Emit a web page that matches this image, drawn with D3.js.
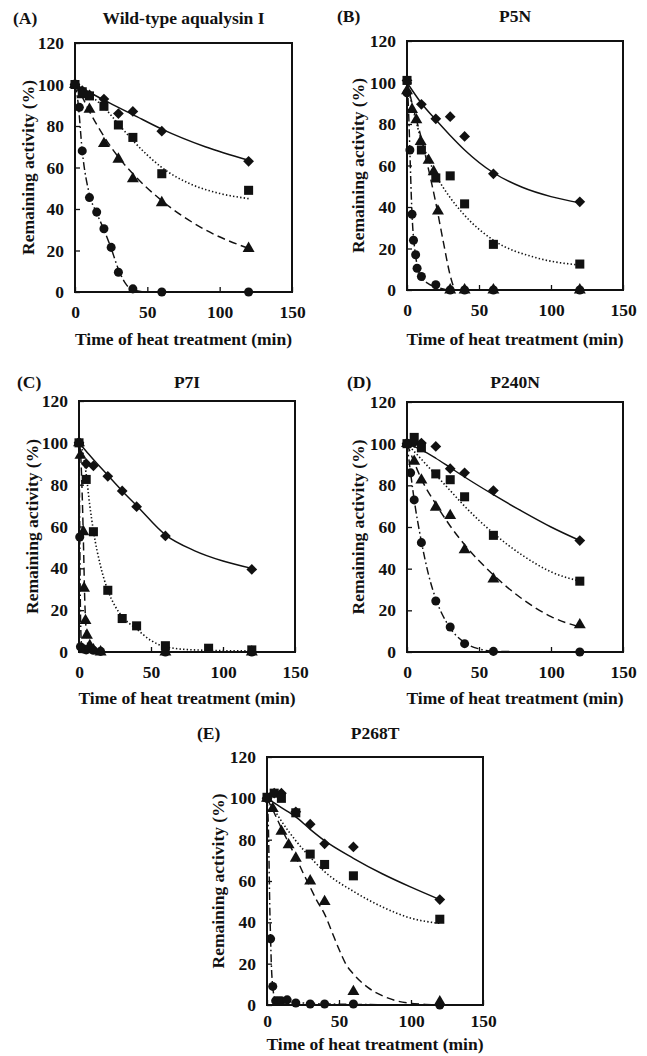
<!DOCTYPE html>
<html><head><meta charset="utf-8">
<script src="https://cdn.jsdelivr.net/npm/d3@7/dist/d3.min.js"></script>
<style>
html,body{margin:0;padding:0;background:#fff;}
svg text{font-family:"Liberation Serif","Times New Roman",serif;font-weight:bold;fill:#111;}
</style></head>
<body><svg id="c" width="647" height="1056"></svg>
<script>
// ---------- shared ticks ----------
const xTicks = [0, 50, 100, 150];
const yTicks = [0, 20, 40, 60, 80, 100, 120];

// ---------- Panel A : Wild-type aqualysin I ----------
const A_diamonds  = [[0,100],[5,97],[10,95],[20,93],[30,86],[40,87],[60,77.5],[120,63]];
const A_squares   = [[0,100],[5,96.5],[10,94.5],[20,89.5],[30,80.5],[40,74.5],[60,57],[120,49]];
const A_triangles = [[0,100],[5,95],[10,88],[20,71.5],[30,64],[40,54.5],[60,43],[120,21]];
const A_circles   = [[0,100],[3,89],[5,68],[10,45.5],[15,38.5],[20,30.5],[25,21.5],[30,9.5],[40,1.5],[60,0],[120,0]];
const A_fitSolid   = [[0,100],[20,92.5],[40,85.5],[60,78.5],[90,70],[120,63.5]];
const A_fitDotted  = [[0,100],[10,95],[20,89],[30,81],[40,73],[50,66],[60,60],[80,52],[100,47.5],[120,45]];
const A_fitDashed  = [[0,100],[5,94],[10,87],[20,75],[30,65],[40,57],[60,44],[90,30],[120,21]];
const A_fitDashDot = [[0,100],[2,92],[5,68],[10,47],[15,38],[20,30],[25,21],[30,11],[35,4],[40,1],[50,0],[120,0]];

// ---------- Panel B : P5N ----------
const B_diamonds  = [[0,101],[10,89.5],[20,82.5],[30,83.5],[40,74],[60,56],[120,42.5]];
const B_squares   = [[0,101],[10,67.5],[20,54],[30,55],[40,41.5],[60,22],[120,12.5]];
const B_triangles = [[0,96],[3.5,87],[6.5,82],[9.5,71.5],[15,62.5],[18.5,57],[21.5,38],[30,0],[40,0],[60,0],[120,0]];
const B_circles   = [[0,95],[2,67.5],[3.5,36.5],[4.5,24],[6,17],[7,10.5],[10,6.5],[20,2.5],[30,0],[40,0],[60,0],[120,0]];
const B_fitSolid   = [[0,100],[10,90],[20,82],[30,74.5],[40,67.5],[60,56.5],[80,49.5],[100,45],[120,42]];
const B_fitDotted  = [[0,100],[5,85],[10,72],[15,63],[20,55.5],[30,44.5],[40,36],[60,24],[90,15.5],[120,12]];
const B_fitDashed  = [[0,100],[5,86],[10,73],[15,58],[20,42],[25,24],[30,7],[33,0]];
const B_fitDashDot = [[0,100],[1,88],[2,67],[3,45],[4,30],[5,22],[7,12],[10,6],[15,3],[20,1.5],[28,0]];

// ---------- Panel C : P7I ----------
const C_diamonds  = [[0,100],[5,90],[10,89],[20,84],[30,77],[40,69.5],[60,55.5],[120,39.5]];
const C_squares   = [[0,100],[5,82.5],[10,57.5],[20,29.5],[30,16],[40,12.5],[60,3],[90,1.8],[120,1]];
const C_triangles = [[0,100],[1,94],[3,57.5],[3.5,30.5],[4.5,15],[5.5,8],[7.5,3],[10,1],[15,0],[60,0],[120,0]];
const C_circles   = [[0,100],[0.5,55],[1,2.5],[3,1.5],[5,1],[10,0.8],[15,0.3],[60,0],[120,0]];
const C_fitSolid   = [[0,100],[5,96],[10,92],[20,84.5],[30,77],[40,70],[60,56],[80,48.5],[100,43.5],[120,40]];
const C_fitDotted  = [[0,100],[2.5,96],[5,85],[7.5,70],[10,58],[15,41],[20,29.5],[25,22],[30,17],[40,11],[50,5.5],[60,2.5],[80,1],[120,0.5]];
const C_fitDashed  = [[0,100],[1,96],[2,80],[3,55],[4,25],[5,10],[6,4],[8,1],[10,0],[120,0]];
const C_fitDashDot = [[0,100],[0.3,80],[0.6,50],[1,20],[1.5,6],[2,2],[4,0.5],[10,0],[120,0]];

// ---------- Panel D : P240N ----------
const D_diamonds  = [[0,100],[5,100.5],[10,100.3],[20,98.7],[30,88],[40,86],[60,77.5],[120,53.5]];
const D_squares   = [[0,100],[5,103],[10,98],[20,85.5],[30,82.7],[40,74.5],[60,56],[120,34]];
const D_triangles = [[0,100],[5,91.5],[10,82.5],[20,69.5],[30,65.5],[40,49],[60,35],[120,13]];
const D_circles   = [[0,100],[2.5,86],[5,73],[10,52.5],[20,24.5],[30,12],[40,4],[60,0.3],[120,0]];
const D_fitSolid   = [[0,100],[10,97],[20,93],[30,88.5],[40,84],[60,75.5],[80,67.5],[100,60],[120,53.5]];
const D_fitDotted  = [[0,100],[10,92.5],[20,85],[30,77.5],[40,70],[60,57],[80,46.5],[100,38.5],[120,34]];
const D_fitDashed  = [[0,100],[5,91],[10,83],[20,71],[30,60.5],[40,51.5],[60,37],[80,25.5],[100,17],[120,12]];
const D_fitDashDot = [[0,100],[2.5,86],[5,73],[10,53],[15,37],[20,25.5],[30,11.5],[40,4.5],[50,1.5],[60,0.3],[120,0]];

// ---------- Panel E : P268T ----------
const E_diamonds  = [[0,100],[5,102.5],[10,102.5],[20,93.5],[30,87.5],[40,78],[60,76.5],[120,51]];
const E_squares   = [[0,100.5],[5,102.5],[10,100],[20,93],[30,73],[40,68],[60,62.5],[120,41.5]];
const E_triangles = [[0,100],[4,95],[10,84],[15,77.5],[20,71],[30,60],[40,50],[60,6.5],[120,1.5]];
const E_circles   = [[0,100],[2.5,32],[4,9],[6,2],[8,2],[10,2],[14,2.5],[20,1],[30,0.5],[40,0.5],[60,0.5],[120,0]];
const E_fitSolid   = [[0,100],[10,95.5],[20,91],[30,85],[40,79.5],[60,71],[80,63.5],[100,57],[120,51]];
const E_fitDotted  = [[0,100],[5,94.5],[10,89],[20,79.5],[30,71.5],[40,64.5],[60,55],[80,47.5],[100,42],[120,39.5]];
const E_fitDashed  = [[0,100],[5,93],[10,85.5],[15,78.5],[20,71.5],[25,64],[30,57],[35,50],[40,44],[45,35.5],[50,27],[55,19.5],[60,15],[70,8.5],[80,4.5],[90,2],[100,0.8],[110,0.3],[120,0]];
const E_fitDashDot = [[0,100],[1,85],[2,45],[2.5,32],[3,20],[4,9],[5,4],[7,2],[15,1.5],[30,0.8],[60,0.3],[120,0]];

// ---------- layout (positions only) ----------
const panels = [
  {tag:"(A)", title:"Wild-type aqualysin I", L:75,  R:292, T:43,  B:292,  tagX:13,  headY:24,  xTitleY:345,  yTitleX:28,  xPad:10,
   d:[A_diamonds,A_squares,A_triangles,A_circles], f:[A_fitSolid,A_fitDotted,A_fitDashed,A_fitDashDot]},
  {tag:"(B)", title:"P5N", L:407, R:623, T:41,  B:290,  tagX:337, headY:22,  xTitleY:345,  yTitleX:358, xPad:10,
   d:[B_diamonds,B_squares,B_triangles,B_circles], f:[B_fitSolid,B_fitDotted,B_fitDashed,B_fitDashDot]},
  {tag:"(C)", title:"P7I", L:79,  R:295, T:401, B:652,  tagX:17,  headY:388, xTitleY:704,  yTitleX:32,  xPad:10,
   d:[C_diamonds,C_squares,C_triangles,C_circles], f:[C_fitSolid,C_fitDotted,C_fitDashed,C_fitDashDot]},
  {tag:"(D)", title:"P240N", L:407, R:623, T:402, B:652, tagX:347, headY:388, xTitleY:704,  yTitleX:358, xPad:10,
   d:[D_diamonds,D_squares,D_triangles,D_circles], f:[D_fitSolid,D_fitDotted,D_fitDashed,D_fitDashDot]},
  {tag:"(E)", title:"P268T", L:267, R:483, T:757, B:1005, tagX:197, headY:739, xTitleY:1050, yTitleX:218, xPad:6,
   d:[E_diamonds,E_squares,E_triangles,E_circles], f:[E_fitSolid,E_fitDotted,E_fitDashed,E_fitDashDot]}
];

const svg = d3.select("#c");
const ink = "#111";
const fitStyles = [null, "1.4,2.2", "8,4.5", "8,3,1.6,3"];
const FS = 17.5;

panels.forEach(p => {
  const x = d3.scaleLinear().domain([0,150]).range([p.L, p.R]);
  const y = d3.scaleLinear().domain([0,120]).range([p.B, p.T]);
  const g = svg.append("g");

  // tags & titles
  g.append("text").attr("x", p.tagX).attr("y", p.headY).attr("font-size", FS).text(p.tag);
  g.append("text").attr("x", (p.L+p.R)/2).attr("y", p.headY).attr("font-size", FS)
    .attr("text-anchor","middle").text(p.title);

  // axes (inward ticks) via d3 axes
  const xa = g.append("g").attr("transform", `translate(0,${p.B})`)
    .call(d3.axisBottom(x).tickValues(xTicks).tickSizeInner(-5).tickSizeOuter(0).tickPadding(p.xPad).tickFormat(d3.format("d")));
  const ya = g.append("g").attr("transform", `translate(${p.L},0)`)
    .call(d3.axisLeft(y).tickValues(yTicks).tickSizeInner(-5).tickSizeOuter(0).tickPadding(11).tickFormat(d3.format("d")));
  [xa, ya].forEach(a => {
    a.select(".domain").remove();
    a.selectAll("line").attr("stroke", ink).attr("stroke-width", 1.3);
    a.selectAll("text").attr("font-size", FS).attr("font-family", '"Liberation Serif",serif')
      .attr("font-weight","bold").attr("fill", ink);
  });
  xa.selectAll("text").attr("dy", "0.9em");

  // frame
  g.append("rect").attr("x", p.L).attr("y", p.T).attr("width", p.R-p.L).attr("height", p.B-p.T)
    .attr("fill","none").attr("stroke", ink).attr("stroke-width", 2);

  // fitted curves
  const line = d3.line().x(d => x(d[0])).y(d => y(d[1])).curve(d3.curveMonotoneX);
  p.f.forEach((pts, i) => {
    g.append("path").attr("d", line(pts)).attr("fill","none").attr("stroke", ink)
      .attr("stroke-width", i===1 ? 1.6 : 1.45)
      .attr("stroke-dasharray", fitStyles[i]);
  });

  // markers: circles, triangles, diamonds, squares
  const sym = {
    dia: d3.symbol().type(d3.symbolSquare).size(58),
    sq:  d3.symbol().type(d3.symbolSquare).size(82),
    tri: d3.symbol().type(d3.symbolTriangle).size(62),
    cir: d3.symbol().type(d3.symbolCircle).size(64)
  };
  const drawPts = (pts, gen, rot) => {
    g.append("g").selectAll("path").data(pts).join("path")
      .attr("d", gen)
      .attr("transform", d => `translate(${x(d[0])},${y(d[1])}) rotate(${rot})`)
      .attr("fill", ink);
  };
  drawPts(p.d[3], sym.cir, 0);
  drawPts(p.d[2], sym.tri, 0);
  drawPts(p.d[0], sym.dia, 45);
  drawPts(p.d[1], sym.sq, 0);

  // axis titles
  g.append("text").attr("x", (p.L+p.R)/2).attr("y", p.xTitleY).attr("font-size", FS)
    .attr("text-anchor","middle").text("Time of heat treatment (min)");
  g.append("text").attr("transform", `translate(${p.yTitleX + 6},${(p.T+p.B)/2}) rotate(-90)`)
    .attr("font-size", FS).attr("text-anchor","middle").text("Remaining activity (%)");
});
</script></body></html>
